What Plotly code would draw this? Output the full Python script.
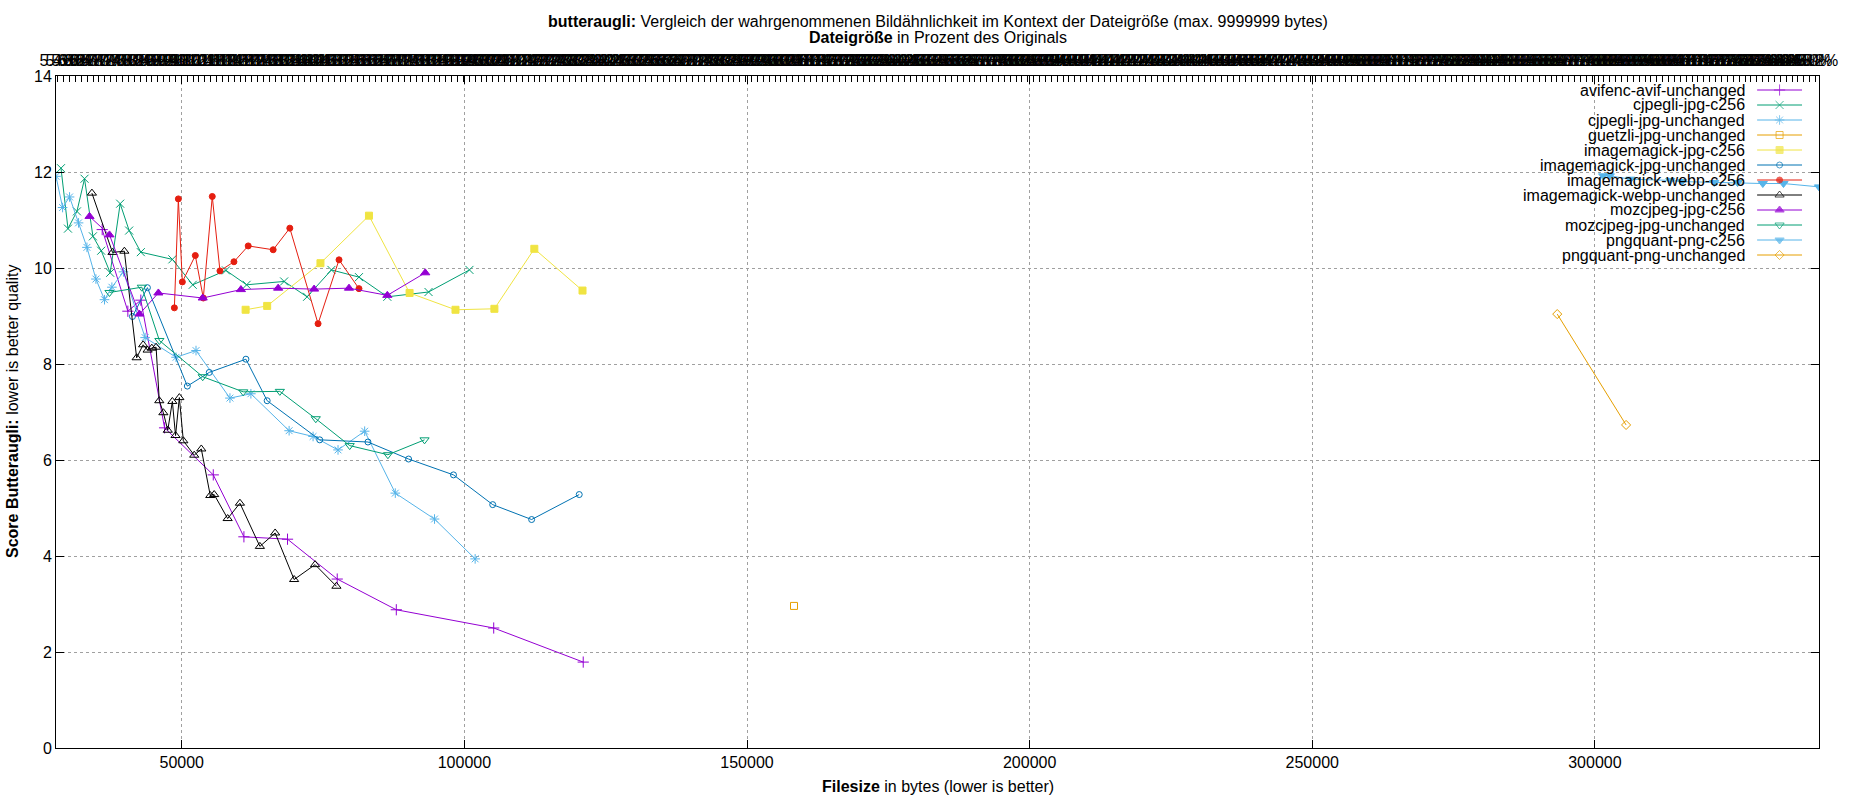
import plotly.graph_objects as go

# values: file size in bytes / butteraugli score
avifenc_avif_unchanged_x = [35929, 40466, 42761, 46963, 55579, 60999, 68714, 77507, 87958, 105190, 121027]
avifenc_avif_unchanged_y = [10.80, 9.10, 9.33, 6.67, 5.69, 4.40, 4.35, 3.52, 2.88, 2.50, 1.79]

cjpegli_jpg_c256_x = [28637, 29873, 31462, 32804, 34287, 35752, 37341, 39107, 40696, 42761, 48340,
                      51942, 57821, 61476, 68114, 72175, 76483, 81355, 86369, 93661, 100899]
cjpegli_jpg_c256_y = [12.08, 10.82, 11.18, 11.86, 10.66, 10.36, 9.90, 11.34, 10.78, 10.33, 10.18,
                      9.65, 9.95, 9.65, 9.72, 9.40, 9.96, 9.81, 9.40, 9.50, 9.96]

cjpegli_jpg_unchanged_x = [27755, 28920, 30156, 31745, 33228, 34817, 36335, 37641, 39689, 43521, 48994,
                           52525, 58527, 62235, 68997, 73234, 77648, 82362, 87782, 94720, 101906]
cjpegli_jpg_unchanged_y = [11.91, 11.26, 11.48, 10.94, 10.43, 9.77, 9.34, 9.60, 9.92, 8.55, 8.14,
                           8.28, 7.29, 7.38, 6.61, 6.49, 6.21, 6.60, 5.31, 4.77, 3.94]

guetzli_jpg_unchanged_x = [158314]
guetzli_jpg_unchanged_y = [2.96]

imagemagick_jpg_c256_x = [61299, 65113, 74540, 83121, 90306, 98428, 105313, 112375, 120902]
imagemagick_jpg_c256_y = [9.13, 9.21, 10.10, 11.09, 9.48, 9.13, 9.15, 10.40, 9.53]

imagemagick_jpg_unchanged_x = [41278, 43927, 50989, 54873, 61352, 65113, 74417, 82944, 90130,
                               98075, 105013, 111899, 120319]
imagemagick_jpg_unchanged_y = [8.99, 9.59, 7.54, 7.825, 8.10, 7.235, 6.42, 6.375, 6.02,
                               5.69, 5.07, 4.76, 5.28]

imagemagick_webp_c256_x = [48694, 49400, 50106, 52401, 53813, 55402, 56762, 59234, 61758, 66172,
                           69120, 74117, 77824, 81355]
imagemagick_webp_c256_y = [9.17, 11.44, 9.71, 10.26, 9.375, 11.49, 9.94, 10.13, 10.46, 10.38,
                           10.83, 8.84, 10.17, 9.57]

imagemagick_webp_unchanged_x = [34110, 37747, 39848, 42020, 43168, 43962, 44703, 45463, 46028, 46751,
                                47528, 48340, 48905, 49576, 50282, 52207, 53460, 55049, 55738, 58121,
                                60293, 63824, 66525, 69879, 73587, 77365]
imagemagick_webp_unchanged_y = [11.56, 10.325, 10.35, 8.13, 8.40, 8.29, 8.33, 8.35, 7.235, 6.985,
                                6.62, 7.22, 6.51, 7.30, 6.40, 6.10, 6.23, 5.26, 5.28, 4.78,
                                5.10, 4.20, 4.48, 3.51, 3.82, 3.37]

mozcjpeg_jpg_c256_x = [33687, 37218, 42514, 45869, 53708, 60469, 67055, 73411, 79590, 86369, 93078]
mozcjpeg_jpg_c256_y = [11.075, 10.69, 9.04, 9.48, 9.375, 9.55, 9.58, 9.56, 9.58, 9.43, 9.90]

mozcjpeg_jpg_unchanged_x = [37218, 42938, 46045, 53708, 60875, 67355, 73711, 79713, 86475, 92955]
mozcjpeg_jpg_unchanged_y = [9.49, 9.60, 8.49, 7.735, 7.42, 7.43, 6.86, 6.30, 6.11, 6.42]

pngquant_png_c256_x = [301460, 302642, 306279, 313341, 315407, 321109, 325240, 329707, 333362, 339647]
pngquant_png_c256_y = [11.92, 11.92, 11.85, 11.825, 11.80, 11.78, 11.78, 11.76, 11.76, 11.69]

pngquant_png_unchanged_x = [293339, 305520]
pngquant_png_unchanged_y = [9.04, 6.73]

ORIGINAL_BYTES = 520000  # reference size for the percent axis on top

# name, x, y, colour, symbol, size  (gnuplot default colour / point type cycle)
series = [
    ("avifenc-avif-unchanged", avifenc_avif_unchanged_x, avifenc_avif_unchanged_y, "#9400d3", "cross-thin", 8),
    ("cjpegli-jpg-c256", cjpegli_jpg_c256_x, cjpegli_jpg_c256_y, "#009e73", "x-thin", 8),
    ("cjpegli-jpg-unchanged", cjpegli_jpg_unchanged_x, cjpegli_jpg_unchanged_y, "#56b4e9", "asterisk", 8),
    ("guetzli-jpg-unchanged", guetzli_jpg_unchanged_x, guetzli_jpg_unchanged_y, "#e69f00", "square-open", 7),
    ("imagemagick-jpg-c256", imagemagick_jpg_c256_x, imagemagick_jpg_c256_y, "#f0e442", "square", 7),
    ("imagemagick-jpg-unchanged", imagemagick_jpg_unchanged_x, imagemagick_jpg_unchanged_y, "#0072b2", "circle-open", 6),
    ("imagemagick-webp-c256", imagemagick_webp_c256_x, imagemagick_webp_c256_y, "#e51e10", "circle", 6),
    ("imagemagick-webp-unchanged", imagemagick_webp_unchanged_x, imagemagick_webp_unchanged_y, "#000000", "triangle-up-open", 8),
    ("mozcjpeg-jpg-c256", mozcjpeg_jpg_c256_x, mozcjpeg_jpg_c256_y, "#9400d3", "triangle-up", 8),
    ("mozcjpeg-jpg-unchanged", mozcjpeg_jpg_unchanged_x, mozcjpeg_jpg_unchanged_y, "#009e73", "triangle-down-open", 8),
    ("pngquant-png-c256", pngquant_png_c256_x, pngquant_png_c256_y, "#56b4e9", "triangle-down", 8),
    ("pngquant-png-unchanged", pngquant_png_unchanged_x, pngquant_png_unchanged_y, "#e69f00", "diamond-open", 7),
]

W, H = 1850, 800
ML, MR, MT, MB = 56, 28, 76, 52
PW, PH = W - ML - MR, H - MT - MB
FONT = "Liberation Sans, Arial, sans-serif"


def px_x(p):
    return (p - ML) / PW


def px_y(p):
    return (H - MB - p) / PH


all_x = [v for s in series for v in s[1]]
x_min, x_max = min(all_x), max(all_x)

fig = go.Figure()

# opaque key background (hides the grid, data still drawn on top)
fig.add_shape(type="rect", xref="paper", yref="paper", x0=px_x(1516), x1=1, y0=px_y(265), y1=1,
              fillcolor="white", line_width=0, layer="between")

for name, xs, ys, col, sym, sz in series:
    fig.add_trace(go.Scatter(
        x=xs, y=ys, mode="lines+markers", name=name, showlegend=False,
        line=dict(color=col, width=1),
        marker=dict(symbol=sym, size=sz, color=col, line=dict(color=col, width=1)),
    ))

# key drawn like gnuplot: right aligned text, sample on the right
for i, (name, xs, ys, col, sym, sz) in enumerate(series):
    yy = px_y(90 + 15 * i)
    fig.add_annotation(x=px_x(1750), y=yy, xref="paper", yref="paper", text=name,
                       xanchor="right", yanchor="middle", showarrow=False,
                       font=dict(size=16, color="#000000"))
    fig.add_trace(go.Scatter(
        x=[px_x(1760), px_x(1782.5), px_x(1805)], y=[yy, yy, yy], xaxis="x3", yaxis="y3",
        mode="lines+markers", showlegend=False, hoverinfo="skip",
        line=dict(color=col, width=1),
        marker=dict(symbol=sym, size=[0, sz, 0], color=col, line=dict(color=col, width=1)),
    ))

# empty trace so the percent axis on top is drawn
fig.add_trace(go.Scatter(x=[x_min / ORIGINAL_BYTES * 100, x_max / ORIGINAL_BYTES * 100], y=[None, None],
                         xaxis="x2", mode="lines", showlegend=False, hoverinfo="skip"))

grid = dict(showgrid=True, gridcolor="#a0a0a0", griddash="dot", gridwidth=1)

fig.update_layout(
    width=W, height=H,
    margin=dict(l=ML, r=MR, t=MT, b=MB),
    paper_bgcolor="white", plot_bgcolor="white",
    font=dict(family=FONT, size=16, color="#000000"),
    showlegend=False,
    xaxis=dict(range=[x_min, x_max], tick0=0, dtick=50000, tickformat="d",
               ticks="inside", ticklen=8, tickcolor="#000000", showline=True, linecolor="#000000",
               linewidth=1, mirror="ticks", zeroline=False, **grid),
    yaxis=dict(range=[0, 14], tick0=0, dtick=2, ticks="inside", ticklen=8, tickcolor="#000000",
               showline=True, linecolor="#000000", linewidth=1, mirror="ticks", zeroline=False, **grid),
    xaxis2=dict(overlaying="x", side="top", anchor="y",
                range=[x_min / ORIGINAL_BYTES * 100, x_max / ORIGINAL_BYTES * 100],
                tick0=0, dtick=0.2, tickformat=".1f", ticksuffix="%", tickangle=0,
                ticks="inside", ticklen=6, tickcolor="#000000", showgrid=False, zeroline=False,
                showline=False, ticklabelstandoff=6),
    xaxis3=dict(overlaying="x", range=[0, 1], visible=False, anchor="y3"),
    yaxis3=dict(overlaying="y", range=[0, 1], visible=False, anchor="x3"),
)

fig.add_annotation(x=0.5, y=1, xref="paper", yref="paper", yshift=MT - 21, showarrow=False,
                   yanchor="middle",
                   text="<b>butteraugli:</b> Vergleich der wahrgenommenen Bildähnlichkeit im Kontext "
                        "der Dateigröße (max. 9999999 bytes)")
fig.add_annotation(x=0.5, y=1, xref="paper", yref="paper", yshift=MT - 37, showarrow=False,
                   yanchor="middle", text="<b>Dateigröße</b> in Prozent des Originals")
fig.add_annotation(x=0.5, y=0, xref="paper", yref="paper", yshift=-38, showarrow=False,
                   yanchor="middle", text="<b>Filesize</b> in bytes (lower is better)")
fig.add_annotation(x=0, y=0.5, xref="paper", yref="paper", xshift=-44, showarrow=False,
                   xanchor="center", yanchor="middle", textangle=-90,
                   text="<b>Score Butteraugli:</b> lower is better quality")

fig.write_html("out.html", config={"displayModeBar": False},
               post_script="document.body.style.margin='0';document.body.style.overflow='hidden';")
